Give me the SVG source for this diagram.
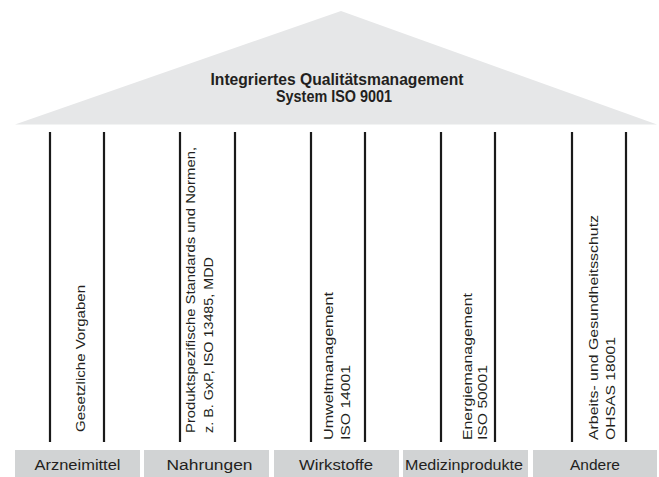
<svg xmlns="http://www.w3.org/2000/svg" width="659" height="477" viewBox="0 0 659 477">
<style>
.roof{fill:#e6e7e8}
.box{fill:#d1d3d4}
.t{font-family:"Liberation Sans","DejaVu Sans",sans-serif;fill:#231f20}
.title{font-size:16px;font-weight:bold;text-anchor:middle}
.lbl{font-size:15.5px;text-anchor:middle}
.pt{font-size:13.5px}
.col{stroke:#1a1a1a;stroke-width:2.2;fill:none}
</style>
<rect width="659" height="477" fill="#ffffff"/>
<g id="roof">
<polygon class="roof" points="15,124.5 341,11 657,124.5"/>
<text class="t title" x="337" y="84.5" textLength="253" lengthAdjust="spacingAndGlyphs">Integriertes Qualitätsmanagement</text>
<text class="t title" x="334" y="101.5" textLength="116" lengthAdjust="spacingAndGlyphs">System ISO 9001</text>
</g>
<g id="connectors">
<line class="col" x1="50" y1="132" x2="50" y2="442"/>
<line class="col" x1="104" y1="132" x2="104" y2="442"/>
<line class="col" x1="180" y1="132" x2="180" y2="442"/>
<line class="col" x1="235" y1="132" x2="235" y2="442"/>
<line class="col" x1="311" y1="132" x2="311" y2="442"/>
<line class="col" x1="365" y1="132" x2="365" y2="442"/>
<line class="col" x1="441" y1="132" x2="441" y2="442"/>
<line class="col" x1="495" y1="132" x2="495" y2="442"/>
<line class="col" x1="572" y1="132" x2="572" y2="442"/>
<line class="col" x1="626" y1="132" x2="626" y2="442"/>
</g>
<g id="pillar1">
<text class="t pt" transform="translate(85,432) rotate(-90)" textLength="147" lengthAdjust="spacingAndGlyphs">Gesetzliche Vorgaben</text>
</g>
<g id="pillar2">
<text class="t pt" transform="translate(195,433) rotate(-90)" textLength="286" lengthAdjust="spacingAndGlyphs">Produktspezifische Standards und Normen,</text>
<text class="t pt" transform="translate(212.5,433) rotate(-90)" textLength="176" lengthAdjust="spacingAndGlyphs">z. B. GxP, ISO 13485, MDD</text>
</g>
<g id="pillar3">
<text class="t pt" transform="translate(333,440) rotate(-90)" textLength="148" lengthAdjust="spacingAndGlyphs">Umweltmanagement</text>
<text class="t pt" transform="translate(349.5,440) rotate(-90)" textLength="75" lengthAdjust="spacingAndGlyphs">ISO 14001</text>
</g>
<g id="pillar4">
<text class="t pt" transform="translate(471.5,440) rotate(-90)" textLength="147" lengthAdjust="spacingAndGlyphs">Energiemanagement</text>
<text class="t pt" transform="translate(487,440) rotate(-90)" textLength="75" lengthAdjust="spacingAndGlyphs">ISO 50001</text>
</g>
<g id="pillar5">
<text class="t pt" transform="translate(598,440) rotate(-90)" textLength="225" lengthAdjust="spacingAndGlyphs">Arbeits- und Gesundheitsschutz</text>
<text class="t pt" transform="translate(614.5,440) rotate(-90)" textLength="103" lengthAdjust="spacingAndGlyphs">OHSAS 18001</text>
</g>
<g id="base1">
<rect class="box" x="15" y="450" width="125" height="27"/>
<text class="t lbl" x="77.5" y="470" textLength="86" lengthAdjust="spacingAndGlyphs">Arzneimittel</text>
</g>
<g id="base2">
<rect class="box" x="144" y="450" width="125" height="27"/>
<text class="t lbl" x="209.5" y="470" textLength="86" lengthAdjust="spacingAndGlyphs">Nahrungen</text>
</g>
<g id="base3">
<rect class="box" x="274" y="450" width="125" height="27"/>
<text class="t lbl" x="336" y="470" textLength="74" lengthAdjust="spacingAndGlyphs">Wirkstoffe</text>
</g>
<g id="base4">
<rect class="box" x="403" y="450" width="125" height="27"/>
<text class="t lbl" x="464" y="470" textLength="118" lengthAdjust="spacingAndGlyphs">Medizinprodukte</text>
</g>
<g id="base5">
<rect class="box" x="533" y="450" width="124" height="27"/>
<text class="t lbl" x="595" y="470" textLength="50" lengthAdjust="spacingAndGlyphs">Andere</text>
</g>
</svg>
